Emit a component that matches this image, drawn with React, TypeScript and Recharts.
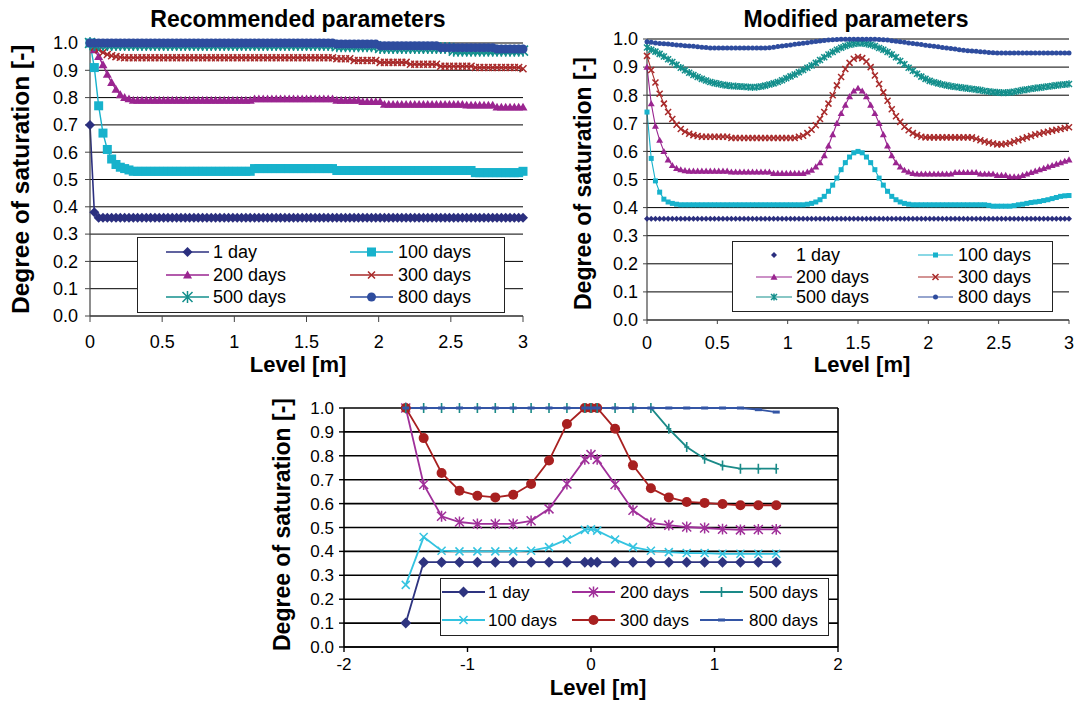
import React from 'react';
import { LineChart, Line, XAxis, YAxis, CartesianGrid, Legend, ReferenceLine } from 'recharts';

// Level [m], shared by both top panels
const levels = [
  0, 0.03, 0.06, 0.09, 0.12, 0.15, 0.18, 0.21, 0.24, 0.27,
  0.3, 0.33, 0.36, 0.39, 0.42, 0.45, 0.48, 0.51, 0.54, 0.57,
  0.6, 0.63, 0.66, 0.69, 0.72, 0.75, 0.78, 0.81, 0.84, 0.87,
  0.9, 0.93, 0.96, 0.99, 1.02, 1.05, 1.08, 1.11, 1.14, 1.17,
  1.2, 1.23, 1.26, 1.29, 1.32, 1.35, 1.38, 1.41, 1.44, 1.47,
  1.5, 1.53, 1.56, 1.59, 1.62, 1.65, 1.68, 1.71, 1.74, 1.77,
  1.8, 1.83, 1.86, 1.89, 1.92, 1.95, 1.98, 2.01, 2.04, 2.07,
  2.1, 2.13, 2.16, 2.19, 2.22, 2.25, 2.28, 2.31, 2.34, 2.37,
  2.4, 2.43, 2.46, 2.49, 2.52, 2.55, 2.58, 2.61, 2.64, 2.67,
  2.7, 2.73, 2.76, 2.79, 2.82, 2.85, 2.88, 2.91, 2.94, 2.97,
  3,
];

// Recommended parameters
const recDay1 = [
  0.7, 0.38, 0.36, 0.36, 0.36, 0.36, 0.36, 0.36, 0.36, 0.36,
  0.36, 0.36, 0.36, 0.36, 0.36, 0.36, 0.36, 0.36, 0.36, 0.36,
  0.36, 0.36, 0.36, 0.36, 0.36, 0.36, 0.36, 0.36, 0.36, 0.36,
  0.36, 0.36, 0.36, 0.36, 0.36, 0.36, 0.36, 0.36, 0.36, 0.36,
  0.36, 0.36, 0.36, 0.36, 0.36, 0.36, 0.36, 0.36, 0.36, 0.36,
  0.36, 0.36, 0.36, 0.36, 0.36, 0.36, 0.36, 0.36, 0.36, 0.36,
  0.36, 0.36, 0.36, 0.36, 0.36, 0.36, 0.36, 0.36, 0.36, 0.36,
  0.36, 0.36, 0.36, 0.36, 0.36, 0.36, 0.36, 0.36, 0.36, 0.36,
  0.36, 0.36, 0.36, 0.36, 0.36, 0.36, 0.36, 0.36, 0.36, 0.36,
  0.36, 0.36, 0.36, 0.36, 0.36, 0.36, 0.36, 0.36, 0.36, 0.36,
  0.36,
];
const recDay100 = [
  1.0, 0.91, 0.77, 0.67, 0.61, 0.575, 0.555, 0.545, 0.54, 0.535,
  0.53, 0.53, 0.53, 0.53, 0.53, 0.53, 0.53, 0.53, 0.53, 0.53,
  0.53, 0.53, 0.53, 0.53, 0.53, 0.53, 0.53, 0.53, 0.53, 0.53,
  0.53, 0.53, 0.53, 0.53, 0.53, 0.53, 0.53, 0.53, 0.54, 0.54,
  0.54, 0.54, 0.54, 0.54, 0.54, 0.54, 0.54, 0.54, 0.54, 0.54,
  0.54, 0.54, 0.54, 0.54, 0.54, 0.54, 0.54, 0.533, 0.533, 0.533,
  0.533, 0.533, 0.533, 0.533, 0.533, 0.533, 0.533, 0.533, 0.533, 0.533,
  0.533, 0.533, 0.533, 0.533, 0.533, 0.533, 0.533, 0.533, 0.533, 0.533,
  0.533, 0.533, 0.533, 0.533, 0.533, 0.533, 0.533, 0.533, 0.533, 0.525,
  0.525, 0.525, 0.525, 0.525, 0.525, 0.525, 0.525, 0.525, 0.525, 0.525,
  0.53,
];
const recDay200 = [
  1.0, 0.975, 0.95, 0.92, 0.885, 0.855, 0.83, 0.81, 0.8, 0.795,
  0.79, 0.79, 0.79, 0.79, 0.79, 0.79, 0.79, 0.79, 0.79, 0.79,
  0.79, 0.79, 0.79, 0.79, 0.79, 0.79, 0.79, 0.79, 0.79, 0.79,
  0.79, 0.79, 0.79, 0.79, 0.79, 0.79, 0.79, 0.79, 0.795, 0.795,
  0.795, 0.795, 0.795, 0.795, 0.795, 0.795, 0.795, 0.795, 0.795, 0.795,
  0.795, 0.795, 0.795, 0.795, 0.795, 0.795, 0.795, 0.79, 0.79, 0.79,
  0.79, 0.79, 0.79, 0.785, 0.785, 0.785, 0.785, 0.785, 0.775, 0.775,
  0.775, 0.775, 0.775, 0.775, 0.775, 0.775, 0.775, 0.775, 0.775, 0.775,
  0.775, 0.775, 0.775, 0.775, 0.775, 0.775, 0.775, 0.772, 0.772, 0.772,
  0.772, 0.772, 0.772, 0.772, 0.765, 0.765, 0.765, 0.765, 0.765, 0.765,
  0.765,
];
const recDay300 = [
  1.0, 0.985, 0.975, 0.965, 0.958, 0.953, 0.95, 0.948, 0.946, 0.946,
  0.946, 0.946, 0.946, 0.946, 0.946, 0.946, 0.946, 0.946, 0.946, 0.946,
  0.946, 0.946, 0.946, 0.946, 0.946, 0.946, 0.946, 0.946, 0.946, 0.946,
  0.946, 0.946, 0.946, 0.946, 0.946, 0.946, 0.946, 0.946, 0.946, 0.946,
  0.946, 0.946, 0.946, 0.946, 0.946, 0.946, 0.946, 0.946, 0.946, 0.946,
  0.946, 0.946, 0.946, 0.946, 0.946, 0.946, 0.946, 0.942, 0.942, 0.942,
  0.942, 0.936, 0.936, 0.936, 0.936, 0.936, 0.936, 0.929, 0.929, 0.929,
  0.929, 0.929, 0.929, 0.929, 0.922, 0.922, 0.922, 0.922, 0.922, 0.922,
  0.922, 0.915, 0.915, 0.915, 0.915, 0.915, 0.915, 0.915, 0.915, 0.91,
  0.91, 0.91, 0.91, 0.91, 0.91, 0.91, 0.91, 0.91, 0.91, 0.91,
  0.906,
];
const recDay500 = [
  1.0, 0.993, 0.993, 0.993, 0.993, 0.993, 0.993, 0.993, 0.993, 0.993,
  0.993, 0.993, 0.993, 0.993, 0.993, 0.993, 0.993, 0.993, 0.993, 0.993,
  0.993, 0.993, 0.993, 0.993, 0.993, 0.993, 0.993, 0.993, 0.993, 0.993,
  0.993, 0.993, 0.993, 0.993, 0.993, 0.993, 0.993, 0.993, 0.993, 0.993,
  0.993, 0.993, 0.993, 0.993, 0.993, 0.993, 0.993, 0.993, 0.993, 0.993,
  0.993, 0.993, 0.993, 0.993, 0.993, 0.993, 0.993, 0.988, 0.988, 0.988,
  0.988, 0.988, 0.988, 0.988, 0.988, 0.988, 0.988, 0.982, 0.982, 0.982,
  0.982, 0.982, 0.982, 0.982, 0.982, 0.982, 0.982, 0.982, 0.982, 0.982,
  0.982, 0.982, 0.982, 0.982, 0.972, 0.972, 0.972, 0.972, 0.972, 0.972,
  0.972, 0.972, 0.972, 0.972, 0.972, 0.972, 0.972, 0.972, 0.972, 0.972,
  0.972,
];
const recDay800 = [
  1.0, 1.0, 1.0, 1.0, 1.0, 1.0, 1.0, 1.0, 1.0, 1.0,
  1.0, 1.0, 1.0, 1.0, 1.0, 1.0, 1.0, 1.0, 1.0, 1.0,
  1.0, 1.0, 1.0, 1.0, 1.0, 1.0, 1.0, 1.0, 1.0, 1.0,
  1.0, 1.0, 1.0, 1.0, 1.0, 1.0, 1.0, 1.0, 1.0, 1.0,
  1.0, 1.0, 1.0, 1.0, 1.0, 1.0, 1.0, 1.0, 1.0, 1.0,
  1.0, 1.0, 1.0, 1.0, 1.0, 1.0, 1.0, 0.996, 0.996, 0.996,
  0.996, 0.996, 0.996, 0.996, 0.996, 0.996, 0.996, 0.99, 0.99, 0.99,
  0.99, 0.99, 0.99, 0.99, 0.99, 0.99, 0.99, 0.99, 0.99, 0.99,
  0.99, 0.983, 0.983, 0.983, 0.983, 0.983, 0.983, 0.983, 0.983, 0.983,
  0.983, 0.983, 0.983, 0.983, 0.978, 0.978, 0.978, 0.978, 0.978, 0.978,
  0.978,
];

// Modified parameters
const modDay1 = [
  0.36, 0.36, 0.36, 0.36, 0.36, 0.36, 0.36, 0.36, 0.36, 0.36,
  0.36, 0.36, 0.36, 0.36, 0.36, 0.36, 0.36, 0.36, 0.36, 0.36,
  0.36, 0.36, 0.36, 0.36, 0.36, 0.36, 0.36, 0.36, 0.36, 0.36,
  0.36, 0.36, 0.36, 0.36, 0.36, 0.36, 0.36, 0.36, 0.36, 0.36,
  0.36, 0.36, 0.36, 0.36, 0.36, 0.36, 0.36, 0.36, 0.36, 0.36,
  0.36, 0.36, 0.36, 0.36, 0.36, 0.36, 0.36, 0.36, 0.36, 0.36,
  0.36, 0.36, 0.36, 0.36, 0.36, 0.36, 0.36, 0.36, 0.36, 0.36,
  0.36, 0.36, 0.36, 0.36, 0.36, 0.36, 0.36, 0.36, 0.36, 0.36,
  0.36, 0.36, 0.36, 0.36, 0.36, 0.36, 0.36, 0.36, 0.36, 0.36,
  0.36, 0.36, 0.36, 0.36, 0.36, 0.36, 0.36, 0.36, 0.36, 0.36,
  0.36,
];
const modDay100 = [
  0.74, 0.575, 0.495, 0.455, 0.43, 0.42, 0.415, 0.412, 0.41, 0.41,
  0.41, 0.41, 0.41, 0.41, 0.41, 0.41, 0.41, 0.41, 0.41, 0.41,
  0.41, 0.41, 0.41, 0.41, 0.41, 0.41, 0.41, 0.41, 0.41, 0.41,
  0.41, 0.41, 0.41, 0.41, 0.41, 0.41, 0.41, 0.41, 0.412, 0.415,
  0.42, 0.428, 0.44, 0.458, 0.48, 0.505, 0.535, 0.56, 0.58, 0.595,
  0.6, 0.595, 0.58, 0.56, 0.535, 0.505, 0.48, 0.458, 0.44, 0.428,
  0.42, 0.415, 0.412, 0.41, 0.41, 0.41, 0.41, 0.41, 0.41, 0.41,
  0.41, 0.41, 0.41, 0.41, 0.41, 0.41, 0.41, 0.41, 0.41, 0.41,
  0.41, 0.408, 0.405, 0.405, 0.405, 0.405, 0.405, 0.407, 0.41, 0.412,
  0.415, 0.418, 0.42, 0.422, 0.425, 0.428, 0.432, 0.436, 0.44, 0.442,
  0.443,
];
const modDay200 = [
  0.9, 0.77, 0.69, 0.64, 0.6, 0.57, 0.55, 0.54, 0.535, 0.532,
  0.53, 0.53, 0.53, 0.53, 0.53, 0.53, 0.53, 0.53, 0.53, 0.53,
  0.527, 0.527, 0.527, 0.527, 0.527, 0.527, 0.527, 0.527, 0.527, 0.527,
  0.522, 0.522, 0.522, 0.522, 0.522, 0.522, 0.522, 0.522, 0.527, 0.533,
  0.545, 0.56, 0.585, 0.62, 0.66, 0.7, 0.735, 0.765, 0.795, 0.815,
  0.825, 0.815, 0.795, 0.765, 0.735, 0.7, 0.66, 0.62, 0.585, 0.56,
  0.545, 0.533, 0.527, 0.522, 0.52, 0.52, 0.52, 0.52, 0.52, 0.52,
  0.52, 0.52, 0.52, 0.525, 0.525, 0.525, 0.525, 0.525, 0.525, 0.52,
  0.52, 0.52, 0.52, 0.515, 0.515, 0.515, 0.51, 0.51, 0.51, 0.515,
  0.52, 0.525, 0.53, 0.535, 0.54, 0.545, 0.55, 0.555, 0.56, 0.565,
  0.57,
];
const modDay300 = [
  0.94, 0.89, 0.845, 0.805, 0.77, 0.74, 0.715, 0.695, 0.68, 0.67,
  0.663, 0.658, 0.655, 0.652, 0.652, 0.652, 0.652, 0.652, 0.652, 0.652,
  0.648, 0.648, 0.648, 0.648, 0.648, 0.648, 0.648, 0.648, 0.648, 0.648,
  0.648, 0.648, 0.648, 0.648, 0.648, 0.648, 0.652, 0.656, 0.665, 0.677,
  0.693, 0.715, 0.74, 0.77, 0.8, 0.835, 0.865, 0.893, 0.915, 0.93,
  0.936, 0.932, 0.92, 0.9, 0.87, 0.84, 0.81, 0.78, 0.75, 0.725,
  0.705, 0.688, 0.675, 0.665, 0.658, 0.652, 0.65, 0.65, 0.65, 0.65,
  0.65, 0.65, 0.65, 0.65, 0.65, 0.65, 0.65, 0.65, 0.645, 0.64,
  0.635, 0.632, 0.628, 0.625, 0.625, 0.627, 0.63, 0.635, 0.64, 0.645,
  0.65, 0.655, 0.66, 0.663, 0.667, 0.67, 0.674, 0.677, 0.68, 0.683,
  0.686,
];
const modDay500 = [
  0.97, 0.962, 0.955, 0.947, 0.938, 0.928, 0.918, 0.908, 0.898, 0.889,
  0.88, 0.872, 0.865, 0.858, 0.852, 0.847, 0.843, 0.84, 0.837, 0.835,
  0.833, 0.832, 0.831, 0.83, 0.829, 0.828, 0.829, 0.831, 0.834, 0.838,
  0.842, 0.847, 0.853, 0.86, 0.867, 0.874, 0.882, 0.89, 0.898, 0.906,
  0.915, 0.925, 0.935, 0.945, 0.954, 0.962, 0.969, 0.975, 0.98, 0.983,
  0.985, 0.985, 0.983, 0.98, 0.975, 0.968, 0.962, 0.954, 0.945, 0.935,
  0.922, 0.91, 0.898, 0.887, 0.876, 0.866, 0.858, 0.851, 0.846, 0.842,
  0.838, 0.835, 0.832, 0.83, 0.828, 0.826, 0.824, 0.822, 0.82, 0.818,
  0.815, 0.813, 0.811, 0.81, 0.809, 0.809, 0.81, 0.812, 0.815, 0.818,
  0.82, 0.823, 0.825, 0.827, 0.829, 0.831, 0.833, 0.835, 0.837, 0.838,
  0.84,
];
const modDay800 = [
  0.99, 0.988, 0.986, 0.984, 0.983, 0.982, 0.98, 0.979, 0.978, 0.976,
  0.975, 0.974, 0.972, 0.971, 0.97, 0.968, 0.968, 0.968, 0.968, 0.968,
  0.968, 0.968, 0.968, 0.968, 0.968, 0.968, 0.968, 0.968, 0.968, 0.969,
  0.971, 0.973, 0.975, 0.977, 0.979, 0.981, 0.983, 0.985, 0.987, 0.989,
  0.991, 0.993, 0.995, 0.996, 0.997, 0.998, 0.999, 0.999, 0.999, 0.999,
  0.999, 0.999, 0.999, 0.999, 0.999, 0.998, 0.997, 0.996, 0.994, 0.992,
  0.99, 0.988, 0.986, 0.984, 0.982, 0.98, 0.978, 0.976, 0.974, 0.972,
  0.97, 0.968, 0.966, 0.964, 0.962, 0.96, 0.958, 0.957, 0.956, 0.955,
  0.954, 0.952, 0.951, 0.95, 0.95, 0.95, 0.95, 0.95, 0.95, 0.95,
  0.95, 0.95, 0.95, 0.95, 0.95, 0.95, 0.95, 0.95, 0.95, 0.95,
  0.95,
];

// lower panel, levels measured from the centre
const centreLevels = [
  -1.5, -1.355, -1.21, -1.065, -0.92, -0.775, -0.63, -0.485, -0.34, -0.195, -0.05,
  0,
  0.05, 0.195, 0.34, 0.485, 0.63, 0.775, 0.92, 1.065, 1.21, 1.355, 1.5,
];
const centreDay1 = [
  0.1, 0.355, 0.355, 0.355, 0.355, 0.355, 0.355, 0.355, 0.355, 0.355, 0.355,
  0.355,
  0.355, 0.355, 0.355, 0.355, 0.355, 0.355, 0.355, 0.355, 0.355, 0.355, 0.355,
];
const centreDay100 = [
  0.26, 0.46, 0.403, 0.4, 0.4, 0.4, 0.4, 0.403, 0.418, 0.45, 0.49,
  0.493,
  0.487, 0.45, 0.418, 0.403, 0.397, 0.393, 0.393, 0.39, 0.39, 0.39, 0.39,
];
const centreDay200 = [
  1.0, 0.68, 0.547, 0.523, 0.515, 0.515, 0.515, 0.528, 0.578, 0.682, 0.785,
  0.805,
  0.785, 0.68, 0.572, 0.519, 0.51, 0.502, 0.498, 0.493, 0.49, 0.492, 0.492,
];
const centreDay300 = [
  1.0, 0.874, 0.728, 0.654, 0.633, 0.626, 0.637, 0.682, 0.78, 0.933, 1.0,
  1.0,
  1.0, 0.913, 0.76, 0.664, 0.626, 0.607, 0.603, 0.598, 0.593, 0.593, 0.593,
];
const centreDay500 = [
  1.0, 1.0, 1.0, 1.0, 1.0, 1.0, 1.0, 1.0, 1.0, 1.0, 1.0,
  1.0,
  1.0, 1.0, 1.0, 1.0, 0.913, 0.837, 0.788, 0.759, 0.746, 0.746, 0.746,
];
const centreDay800 = [
  1.0, 1.0, 1.0, 1.0, 1.0, 1.0, 1.0, 1.0, 1.0, 1.0, 1.0,
  1.0,
  1.0, 1.0, 1.0, 1.0, 1.0, 1.0, 1.0, 1.0, 1.0, 0.993, 0.983,
];

const yTicks = [0, 0.1, 0.2, 0.3, 0.4, 0.5, 0.6, 0.7, 0.8, 0.9, 1];
const topXTicks = [0, 0.5, 1, 1.5, 2, 2.5, 3];
const centreXTicks = [-2, -1, 0, 1, 2];

const recRows = levels.map((x, i) => ({
  x, d1: recDay1[i], d100: recDay100[i], d200: recDay200[i],
  d300: recDay300[i], d500: recDay500[i], d800: recDay800[i],
}));
const modRows = levels.map((x, i) => ({
  x, d1: modDay1[i], d100: modDay100[i], d200: modDay200[i],
  d300: modDay300[i], d500: modDay500[i], d800: modDay800[i],
}));
const centreRows = centreLevels.map((x, i) => ({
  x, d1: centreDay1[i], d100: centreDay100[i], d200: centreDay200[i],
  d300: centreDay300[i], d500: centreDay500[i], d800: centreDay800[i],
}));

type Shape = 'diamond' | 'square' | 'triangle' | 'cross' | 'star' | 'plus' | 'circle' | 'dash';

interface Series {
  key: string;
  name: string;
  color: string;
  shape: Shape;
  size: number;
  width: number;
  noLine?: boolean;
  col: number;
  row: number;
}

const recSeries: Series[] = [
  { key: 'd1', name: '1 day', color: '#2B2F7F', shape: 'diamond', size: 10, width: 1.6, col: 0, row: 0 },
  { key: 'd100', name: '100 days', color: '#17B2CC', shape: 'square', size: 9, width: 1.4, col: 1, row: 0 },
  { key: 'd200', name: '200 days', color: '#9A2590', shape: 'triangle', size: 9, width: 1.4, col: 0, row: 1 },
  { key: 'd300', name: '300 days', color: '#A82A2A', shape: 'cross', size: 7, width: 1.4, col: 1, row: 1 },
  { key: 'd500', name: '500 days', color: '#138F8C', shape: 'star', size: 10, width: 1.4, col: 0, row: 2 },
  { key: 'd800', name: '800 days', color: '#2E4C9E', shape: 'circle', size: 9, width: 1.4, col: 1, row: 2 },
];

const modSeries: Series[] = [
  { key: 'd1', name: '1 day', color: '#2B2F7F', shape: 'diamond', size: 6, width: 1, noLine: true, col: 0, row: 0 },
  { key: 'd100', name: '100 days', color: '#17B2CC', shape: 'square', size: 5, width: 1.1, col: 1, row: 0 },
  { key: 'd200', name: '200 days', color: '#9A2590', shape: 'triangle', size: 7, width: 1.1, col: 0, row: 1 },
  { key: 'd300', name: '300 days', color: '#A82A2A', shape: 'cross', size: 6, width: 1.1, col: 1, row: 1 },
  { key: 'd500', name: '500 days', color: '#138F8C', shape: 'star', size: 6, width: 1.1, col: 0, row: 2 },
  { key: 'd800', name: '800 days', color: '#2E4C9E', shape: 'circle', size: 5, width: 1.1, col: 1, row: 2 },
];

const centreSeries: Series[] = [
  { key: 'd1', name: '1 day', color: '#2E3480', shape: 'diamond', size: 11, width: 1.8, col: 0, row: 0 },
  { key: 'd100', name: '100 days', color: '#33C3E0', shape: 'cross', size: 8, width: 1.8, col: 0, row: 1 },
  { key: 'd200', name: '200 days', color: '#A0309A', shape: 'star', size: 9, width: 1.8, col: 1, row: 0 },
  { key: 'd300', name: '300 days', color: '#A82020', shape: 'circle', size: 10, width: 1.8, col: 1, row: 1 },
  { key: 'd500', name: '500 days', color: '#1A8A88', shape: 'plus', size: 10, width: 1.8, col: 2, row: 0 },
  { key: 'd800', name: '800 days', color: '#3355A5', shape: 'dash', size: 7, width: 1.8, col: 2, row: 1 },
];

interface MarkerProps {
  cx?: number;
  cy?: number;
  shape: Shape;
  color: string;
  size: number;
}

const Marker = ({ cx, cy, shape, color, size }: MarkerProps) => {
  if (cx == null || cy == null) return null;
  const r = size / 2;
  switch (shape) {
    case 'diamond':
      return <polygon points={`${cx},${cy - r} ${cx + r},${cy} ${cx},${cy + r} ${cx - r},${cy}`} fill={color} />;
    case 'square':
      return <rect x={cx - r} y={cy - r} width={size} height={size} fill={color} />;
    case 'triangle':
      return <polygon points={`${cx},${cy - r} ${cx + r},${cy + r * 0.75} ${cx - r},${cy + r * 0.75}`} fill={color} />;
    case 'cross':
      return (
        <path d={`M${cx - r},${cy - r}L${cx + r},${cy + r}M${cx - r},${cy + r}L${cx + r},${cy - r}`}
          stroke={color} strokeWidth={1.5} fill="none" />
      );
    case 'star':
      return (
        <path d={`M${cx - r},${cy - r}L${cx + r},${cy + r}M${cx - r},${cy + r}L${cx + r},${cy - r}M${cx},${cy - r * 1.2}L${cx},${cy + r * 1.2}`}
          stroke={color} strokeWidth={1.5} fill="none" />
      );
    case 'plus':
      return (
        <path d={`M${cx},${cy - r}L${cx},${cy + r}M${cx - r * 0.5},${cy}L${cx + r * 0.5},${cy}`}
          stroke={color} strokeWidth={1.6} fill="none" />
      );
    case 'circle':
      return <circle cx={cx} cy={cy} r={r} fill={color} />;
    case 'dash':
      return <rect x={cx - r} y={cy - 1.5} width={size} height={3} fill={color} />;
    default:
      return null;
  }
};

const dotFor = (s: Series) => (p: any) => (
  <g key={`${s.key}-${p.index}`}>
    <Marker cx={p.cx} cy={p.cy} shape={s.shape} color={s.color} size={s.size} />
  </g>
);

interface LegendLayout {
  width: number;
  height: number;
  cols: { x1: number; x2: number; tx: number }[];
  rows: number[];
  fontSize: number;
}

const LegendBox = ({ series, layout }: { series: Series[]; layout: LegendLayout }) => (
  <svg width={layout.width} height={layout.height} style={{ display: 'block', background: '#fff' }}>
    <rect x={0.5} y={0.5} width={layout.width - 1} height={layout.height - 1} fill="#fff" stroke="#222" strokeWidth={1} />
    {series.map((s) => {
      const c = layout.cols[s.col];
      const y = layout.rows[s.row];
      return (
        <g key={s.key}>
          {!s.noLine && <line x1={c.x1} y1={y} x2={c.x2} y2={y} stroke={s.color} strokeWidth={s.width} />}
          <Marker cx={(c.x1 + c.x2) / 2} cy={y} shape={s.shape} color={s.color} size={s.size} />
          <text x={c.tx} y={y} dominantBaseline="central" fontSize={layout.fontSize} fill="#000">{s.name}</text>
        </g>
      );
    })}
  </svg>
);

const recLegend: LegendLayout = {
  width: 368, height: 76, fontSize: 18,
  cols: [{ x1: 29, x2: 72, tx: 76 }, { x1: 213, x2: 256, tx: 261 }],
  rows: [15, 38, 60],
};
const modLegend: LegendLayout = {
  width: 321, height: 71, fontSize: 18,
  cols: [{ x1: 24, x2: 60, tx: 64 }, { x1: 186, x2: 221, tx: 226 }],
  rows: [14, 36, 56],
};
const centreLegend: LegendLayout = {
  width: 389, height: 58, fontSize: 17,
  cols: [{ x1: 2, x2: 45, tx: 48 }, { x1: 132, x2: 175, tx: 180 }, { x1: 260, x2: 303, tx: 309 }],
  rows: [14, 42],
};

// bold caption, x is the centre and baseline is the text baseline
const Caption = ({ x, baseline, size, text }: { x: number; baseline: number; size: number; text: string }) => (
  <div style={{
    position: 'absolute', left: x - 300, width: 600, top: baseline - 0.8465 * size,
    fontSize: size, lineHeight: `${size}px`, fontWeight: 'bold', textAlign: 'center', whiteSpace: 'nowrap',
  }}>{text}</div>
);

// rotated axis title, centred on (cx, cy)
const SideCaption = ({ cx, cy, size, text }: { cx: number; cy: number; size: number; text: string }) => (
  <div style={{
    position: 'absolute', left: cx - 200, width: 400, top: cy - size / 2, height: size,
    fontSize: size, lineHeight: `${size}px`, fontWeight: 'bold', textAlign: 'center', whiteSpace: 'nowrap',
    transform: 'rotate(-90deg)',
  }}>{text}</div>
);

const fmt = (v: number) => v.toFixed(1);

export default function App() {
  return (
    <div style={{
      position: 'absolute', left: 0, top: 0, width: 1078, height: 701, background: '#fff',
      fontFamily: '"Liberation Sans", Arial, sans-serif', color: '#000', overflow: 'hidden',
    }}>
      <div style={{ position: 'absolute', left: 0, top: 0 }}>
        <LineChart width={540} height={380} data={recRows} margin={{ top: 43, right: 17, left: 0, bottom: 0 }}>
          <CartesianGrid vertical={false} stroke="#000" strokeWidth={1} />
          <XAxis dataKey="x" type="number" domain={[0, 3]} ticks={topXTicks} interval={0} height={64}
            tickSize={6} tickMargin={13} tick={{ fill: '#000', fontSize: 18 }}
            axisLine={{ stroke: '#444', strokeWidth: 1.2 }} tickLine={{ stroke: '#444' }} />
          <YAxis domain={[0, 1]} ticks={yTicks} interval={0} width={90} tickFormatter={fmt}
            tickSize={5} tickMargin={7} tick={{ fill: '#000', fontSize: 18 }}
            axisLine={{ stroke: '#444', strokeWidth: 1.2 }} tickLine={{ stroke: '#444' }} />
          {recSeries.map((s) => (
            <Line key={s.key} type="linear" dataKey={s.key} name={s.name} stroke={s.color} strokeWidth={s.width}
              dot={dotFor(s)} activeDot={false} isAnimationActive={false} />
          ))}
          <Legend layout="vertical" align="center" verticalAlign="middle"
            wrapperStyle={{ left: 137, top: 237, width: recLegend.width, height: recLegend.height }}
            content={() => <LegendBox series={recSeries} layout={recLegend} />} />
        </LineChart>
      </div>

      <div style={{ position: 'absolute', left: 540, top: 0 }}>
        <LineChart width={538} height={380} data={modRows} margin={{ top: 39, right: 9, left: 0, bottom: 0 }}>
          <CartesianGrid vertical={false} stroke="#000" strokeWidth={1} />
          <XAxis dataKey="x" type="number" domain={[0, 3]} ticks={topXTicks} interval={0} height={60}
            tickSize={4} tickMargin={12} tick={{ fill: '#000', fontSize: 18 }}
            axisLine={{ stroke: '#444', strokeWidth: 1.2 }} tickLine={{ stroke: '#444' }} />
          <YAxis domain={[0, 1]} ticks={yTicks} interval={0} width={107} tickFormatter={fmt}
            tickSize={4} tickMargin={5} tick={{ fill: '#000', fontSize: 18 }}
            axisLine={{ stroke: '#444', strokeWidth: 1.2 }} tickLine={{ stroke: '#444' }} />
          {modSeries.map((s) => (
            <Line key={s.key} type="linear" dataKey={s.key} name={s.name}
              stroke={s.noLine ? 'none' : s.color} strokeWidth={s.width}
              dot={dotFor(s)} activeDot={false} isAnimationActive={false} />
          ))}
          <Legend layout="vertical" align="center" verticalAlign="middle"
            wrapperStyle={{ left: 192, top: 241, width: modLegend.width, height: modLegend.height }}
            content={() => <LegendBox series={modSeries} layout={modLegend} />} />
        </LineChart>
      </div>

      <div style={{ position: 'absolute', left: 260, top: 390 }}>
        <LineChart width={600} height={311} data={centreRows} margin={{ top: 18, right: 22, left: 0, bottom: 0 }}>
          <CartesianGrid vertical={false} stroke="#000" strokeWidth={1.6} />
          <XAxis dataKey="x" type="number" domain={[-2, 2]} ticks={centreXTicks} interval={0} height={54}
            tickSize={5} tickMargin={6} tick={{ fill: '#000', fontSize: 17 }}
            axisLine={{ stroke: '#000', strokeWidth: 1.6 }} tickLine={{ stroke: '#000', strokeWidth: 1.4 }} />
          <YAxis domain={[0, 1]} ticks={yTicks} interval={0} width={84} tickFormatter={fmt}
            tickSize={5} tickMargin={5} tick={{ fill: '#000', fontSize: 17 }}
            axisLine={{ stroke: '#000', strokeWidth: 1.6 }} tickLine={{ stroke: '#000', strokeWidth: 1.4 }} />
          <ReferenceLine x={2} stroke="#000" strokeWidth={1.6} />
          {centreSeries.map((s) => (
            <Line key={s.key} type="linear" dataKey={s.key} name={s.name} stroke={s.color} strokeWidth={s.width}
              dot={dotFor(s)} activeDot={false} isAnimationActive={false} />
          ))}
          <Legend layout="vertical" align="center" verticalAlign="middle"
            wrapperStyle={{ left: 180, top: 188, width: centreLegend.width, height: centreLegend.height }}
            content={() => <LegendBox series={centreSeries} layout={centreLegend} />} />
        </LineChart>
      </div>

      <Caption x={298} baseline={27} size={23} text="Recommended parameters" />
      <Caption x={856} baseline={27} size={23} text="Modified parameters" />
      <SideCaption cx={21} cy={179} size={24.5} text="Degree of saturation [-]" />
      <SideCaption cx={583} cy={183} size={23} text="Degree of saturation [-]" />
      <SideCaption cx={282} cy={524} size={23} text="Degree of saturation [-]" />
      <Caption x={298} baseline={373} size={22} text="Level [m]" />
      <Caption x={862} baseline={373} size={22} text="Level [m]" />
      <Caption x={598} baseline={696} size={22} text="Level [m]" />
    </div>
  );
}
